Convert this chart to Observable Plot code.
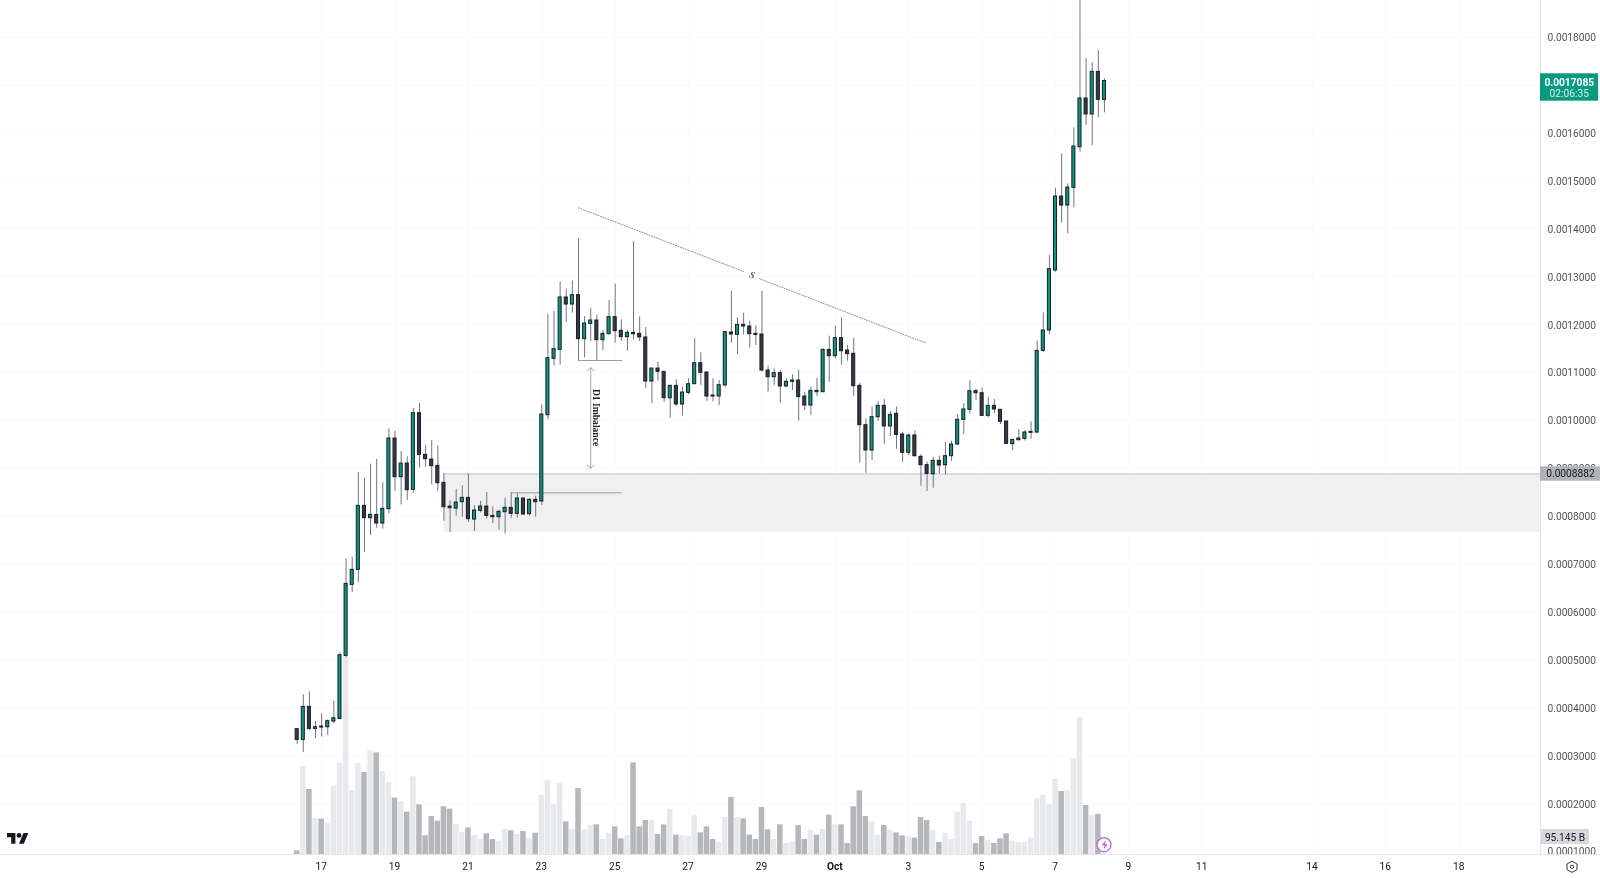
<!DOCTYPE html>
<html>
<head>
<meta charset="utf-8">
<script src="https://cdn.jsdelivr.net/npm/d3@7"></script>
<script src="https://cdn.jsdelivr.net/npm/@observablehq/plot@0.6"></script>
<style>
html,body{margin:0;padding:0;background:#fff;width:1600px;height:878px;overflow:hidden}
#chart svg{display:block}
#chart>svg{filter:blur(0.3px)}
</style>
</head>
<body>
<div id="chart"></div>
<script>
// Prices are in units of 0.0000001; volumes in billions. One candle every 4 hours.
const opens = [3554,3331,4020,3560,3609,3595,3714,3769,5084,6567,6880,8216,7959,8028,7847,8147,9622,8815,9100,8550,10151,9281,9183,9051,8696,8202,8160,8293,8383,7931,8112,8202,8007,7980,8084,8174,8049,8369,8042,8341,
8307,10109,11285,11473,12566,12419,12614,11696,12016,12086,11675,11800,12155,11870,11738,11828,11807,11731,10812,11083,11014,10464,10722,10332,10575,10756,11195,11000,10520,10499,10729,11835,11786,11995,11960,11807,11793,11042,10902,10986,10708,
10805,10833,10499,10311,10617,10589,11473,11341,11717,11459,11390,10722,9900,9371,10067,10304,9873,10137,9706,9323,9685,9239,9065,8877,9156,9065,9253,9497,10012,10221,10610,10568,10095,10304,10221,9977,9504,9587,9615,9740,9747,
11452,11877,13129,14674,14486,14855,15704,16720,16386,17277,16692];
const closes = [3331,4020,3560,3595,3588,3721,3783,5098,6588,6880,8216,7959,8028,7847,8154,9622,8815,9100,8543,10151,9281,9190,9044,8689,8188,8167,8286,8383,7938,8119,8202,8007,7980,8091,8174,8049,8369,8035,8341,8293,
10123,11299,11487,12566,12419,12614,11696,12023,12086,11675,11807,12155,11863,11738,11828,11800,11731,10812,11083,11014,10464,10722,10332,10582,10756,11195,10993,10499,10499,10735,11842,11793,11995,11960,11800,11786,11042,10902,10986,10708,10805,
10833,10485,10311,10617,10589,11473,11341,11717,11445,11383,10715,9900,9371,10067,10304,9873,10116,9699,9323,9685,9253,9065,8884,9156,9058,9253,9497,10012,10228,10610,10568,10095,10304,10228,9970,9511,9594,9622,9747,9761,11452,
11877,13157,14674,14486,14862,15718,16720,16386,17277,16692,17085];
const highs = [3568,4270,4333,3714,3874,3749,4138,5147,7110,7145,8912,8794,9086,9190,8696,9824,9775,9350,9239,10248,10353,9483,9580,9469,8891,8321,8557,8634,8884,8216,8307,8495,8195,8126,8376,8488,8467,8376,8369,8418,
10325,12211,12273,12893,12740,12914,13790,12169,12336,12197,11877,12503,12844,12099,11884,13728,12162,11939,11083,11216,11021,10729,10847,10694,10868,11703,11410,11007,10868,10833,11842,12691,12141,12239,12072,11974,12698,11132,11076,11042,10868,
10951,11042,10589,10694,10875,11494,11758,11967,12141,11564,11717,10777,10033,10276,10394,10436,10186,10276,9754,9719,9782,9288,9128,9232,9253,9546,9566,10116,10346,10826,10652,10673,10485,10436,10228,9984,9601,9803,9789,9970,11654,
12245,13442,14848,15565,14939,16108,19000,17555,17465,17722,17131];
const lows = [3233,3066,3526,3352,3387,3421,3665,3749,5043,6407,6609,7249,7597,7750,7729,8049,8515,8237,8328,8481,9010,9023,8655,8522,7896,7659,8000,7980,7868,7680,8070,7945,7847,7708,7625,7959,7959,8021,8007,7980,
8223,10012,11132,11153,12044,12239,11250,11306,11647,11250,11459,11786,11612,11647,11445,11682,11647,10659,10346,10819,10380,10046,10297,10095,10534,10749,10729,10388,10388,10311,10694,11612,11369,11779,11508,11564,11007,10589,10729,10360,10680,
10624,9984,10207,10109,10499,10582,10791,11285,11153,11237,10499,9107,8898,9163,9977,9497,9664,9399,9128,9267,9232,8627,8516,8585,8884,8864,9149,9476,9706,10130,10415,10081,10053,10137,9914,9504,9371,9566,9566,9608,9719,
11417,11793,13094,14117,13895,14437,15600,16163,15732,16316,16421];
const volumes = [20.5,492.8,364,201.6,197.9,173.6,380.8,511.5,1105,358.4,511.5,459.2,580.5,569.3,464.8,403.2,315.5,294.9,237.1,434.9,278.1,104.5,212.8,186.7,266.9,253.9,166.1,123.2,149.3,106.4,84,115.7,84,74.7,140,132.5,112,128.8,87.7,119.5,
332.3,416.3,278.1,397.6,182.9,140,369.6,136.3,162.4,166.1,84,119.5,154.9,87.7,106.4,513.3,154.9,190.4,190.4,112,166.1,253.9,108.3,104.5,100.8,216.5,121.3,154.9,84,67.2,207.2,319.2,207.2,199.7,108.3,84,263.2,138.1,84,166.1,61.6,
70.9,162.4,84,136.3,108.3,140,220.3,166.1,166.1,61.6,266.9,356.5,212.8,182.9,108.3,162.4,136.3,121.3,104.5,100.8,91.5,207.2,190.4,136.3,67.2,119.5,84,237.1,285.6,186.7,61.6,100.8,78.4,61.6,87.7,115.7,74.7,67.2,67.2,91.5,311.7,
332.3,278.1,420,352.8,356.5,535.7,765.3,274.4,218.4,224,95.145];
const priceTicks = [0.0001,0.0002,0.0003,0.0004,0.0005,0.0006,0.0007,0.0008,0.0009,0.0010,0.0011,0.0012,0.0013,0.0014,0.0015,0.0016,0.0018];
const gridTicks = [...priceTicks,0.0017];
const dayTicks = [[8,17],[8,19],[8,21],[8,23],[8,25],[8,27],[8,29],[9,3],[9,5],[9,7],[9,9],[9,11],[9,14],[9,16],[9,18]];
const monthTick = [9,1];
const zoneTop = 8882, zoneBottom = 7666;
const lastPrice = "0.0017085", countdown = "02:06:35", lastVolume = "95.145 B";

const START = Date.UTC(2024,8,16,8);
const HOUR = 3600000;
const at = i => new Date(START + i*4*HOUR);
const P = v => v*1e-7;
const xDomain = [at(-48.51), at(203.3)];
const yDomain = [P(938), P(18766)];
const PANEL = at(213.3), GUTTER = at(203.3);
const FONT = "Roboto, 'Liberation Sans', sans-serif";

const candles = opens.map((o,i)=>({t:at(i),t1:at(i-0.25),t2:at(i+0.25),v1:at(i-0.45),v2:at(i+0.45),
  open:P(o),close:P(closes[i]),high:P(highs[i]),low:P(lows[i]),vol:volumes[i],up:closes[i]>=o}));

const common = {width:1600,height:878,marginLeft:0,marginRight:60,marginTop:0,marginBottom:24};

const volumePlot = Plot.plot({...common,style:{background:"transparent"},
  x:{type:"utc",domain:xDomain,axis:null},
  y:{domain:[0,4782.4],axis:null},
  marks:[
    Plot.rect(candles,{x1:"v1",x2:"v2",y1:0,y2:"vol",fill:d=>d.up?"#e8e9ed":"#b6b7bb"})
  ]});

function svgNode(markup){
  const g=document.createElementNS("http://www.w3.org/2000/svg","g");
  g.innerHTML=markup; return g;
}

const trendA=[{i:46,p:14438},{i:73,p:13108}], trendB=[{i:75.65,p:12956},{i:102.7,p:11620}];
const lineOpt={x:d=>at(d.i),y:d=>P(d.p),stroke:"#8a8a8e",strokeWidth:1,strokeDasharray:"1,1.6"};
const arrowOpt={stroke:"#a4a5a9",strokeWidth:1,headLength:7,headAngle:100,bend:0};

const chart = Plot.plot({...common,style:{background:"#fff",fontFamily:FONT},
  x:{type:"utc",domain:xDomain},
  y:{domain:yDomain},
  marks:[
    Plot.gridX([...dayTicks.map(([m,d])=>new Date(Date.UTC(2024,m,d))),new Date(Date.UTC(2024,...monthTick))],{stroke:"#fafafb",strokeOpacity:1}),
    Plot.gridY(gridTicks,{stroke:"#fafafb",strokeOpacity:1}),
    ()=>volumePlot,
    Plot.rect([0],{x1:at(24),x2:GUTTER,y1:P(zoneBottom),y2:P(zoneTop),fill:"#f0f0f1"}),
    Plot.ruleY([P(zoneTop)],{x1:at(24),x2:GUTTER,stroke:"#c4c5c9"}),
    // price structure annotations
    Plot.line([{i:46,p:11250},{i:53.1,p:11250}],{x:d=>at(d.i),y:d=>P(d.p),stroke:"#9a9a9e",strokeWidth:1}),
    Plot.line([{i:35,p:8488},{i:53,p:8488}],{x:d=>at(d.i),y:d=>P(d.p),stroke:"#9a9a9e",strokeWidth:1}),
    Plot.line(trendA,lineOpt),
    Plot.line(trendB,lineOpt),
    Plot.text(["S"],{x:at(74.4),y:P(13030),rotate:20,fontSize:10,fontStyle:"italic",fontWeight:"bold",fill:"#666",fontFamily:"'Liberation Serif',serif"}),
    Plot.arrow([0],{...arrowOpt,x1:at(48),x2:at(48),y1:P(10050),y2:P(9002)}),
    Plot.arrow([0],{...arrowOpt,x1:at(48),x2:at(48),y1:P(10050),y2:P(11098)}),
    Plot.text(["D1 Imbalance"],{x:at(48.9),y:P(10060),rotate:90,fontSize:9.6,fontWeight:"bold",fill:"#222",fontFamily:"'Liberation Serif',serif"}),
    // candles
    Plot.ruleX(candles,{x:"t",y1:"low",y2:"high",stroke:"#72757e",strokeWidth:1}),
    Plot.rect(candles,{x1:"t1",x2:"t2",y1:"open",y2:"close",fill:d=>d.up?"#089981":"#363a45",stroke:"#1a1d24",strokeWidth:1}),
    // axes
    Plot.axisY(priceTicks,{anchor:"right",tickSize:0,tickPadding:7,dy:0.7,tickFormat:d=>d.toFixed(7),fontSize:10.2,fill:"#50535e",label:null}),
    Plot.rect([0],{x1:at(-49),x2:PANEL,y1:P(938),y2:P(-1000),fill:"#fff"}),
    Plot.ruleX([GUTTER],{stroke:"#e0e3eb"}),
    Plot.ruleY([P(938)],{x1:at(-49),x2:PANEL,stroke:"#e4e6ec"}),
    Plot.axisX(dayTicks.map(([m,d])=>new Date(Date.UTC(2024,m,d))),{anchor:"bottom",tickSize:0,tickPadding:8,dx:-0.5,tickFormat:d=>String(d.getUTCDate()),fontSize:10.2,fill:"#131722",label:null}),
    Plot.axisX([new Date(Date.UTC(2024,...monthTick))],{anchor:"bottom",tickSize:0,tickPadding:8,dx:-0.5,tickFormat:()=>"Oct",fontSize:10.2,fontWeight:"bold",fill:"#131722",label:null}),
    // price and volume labels
    Plot.rect([0],{x1:GUTTER,x2:at(212.8),y1:P(16664),y2:P(17236),fill:"#089981"}),
    Plot.text([lastPrice],{x:at(208),y:P(17040),fontSize:10.2,fontWeight:"bold",fill:"#fff"}),
    Plot.text([countdown],{x:at(208),y:P(16830),fontSize:10.2,fill:"#d5f0ea"}),
    Plot.rect([0],{x1:GUTTER,x2:at(213.1),y1:P(8730),y2:P(9030),fill:"#b2b3b8"}),
    Plot.text([zoneTop],{x:at(208.2),y:P(8882),text:d=>(d*1e-7).toFixed(7),fontSize:10.2,fill:"#131722"}),
    ()=>svgNode(`<rect x="1541" y="829" width="48" height="15" fill="#d6d8de"/>
      <text x="1565" y="840.5" text-anchor="middle" font-size="10.2" fill="#131722">${lastVolume}</text>
      <g transform="translate(7,830.6) scale(0.6)" fill="#131722"><path d="M14 22H7V11H0V4h14v18zM28 22h-8l7.5-18h8L28 22z"/><circle cx="20" cy="8" r="4"/></g>
      <circle cx="1104" cy="844.7" r="7" fill="#fff" stroke="#c062d2" stroke-width="1.3"/>
      <path d="M1106 840l-4.4 5.2h3l-1 4.2 4.2-5.2h-3z" fill="#c062d2"/>
      <path d="M1572 861l5 2.8v5.6l-5 2.8-5-2.8v-5.6z" fill="none" stroke="#333" stroke-width="1" transform="translate(0,0.2)"/>
      <circle cx="1572" cy="866.8" r="1.7" fill="none" stroke="#333" stroke-width="1"/>`)
  ]});
document.getElementById("chart").append(chart);
</script>
</body>
</html>
